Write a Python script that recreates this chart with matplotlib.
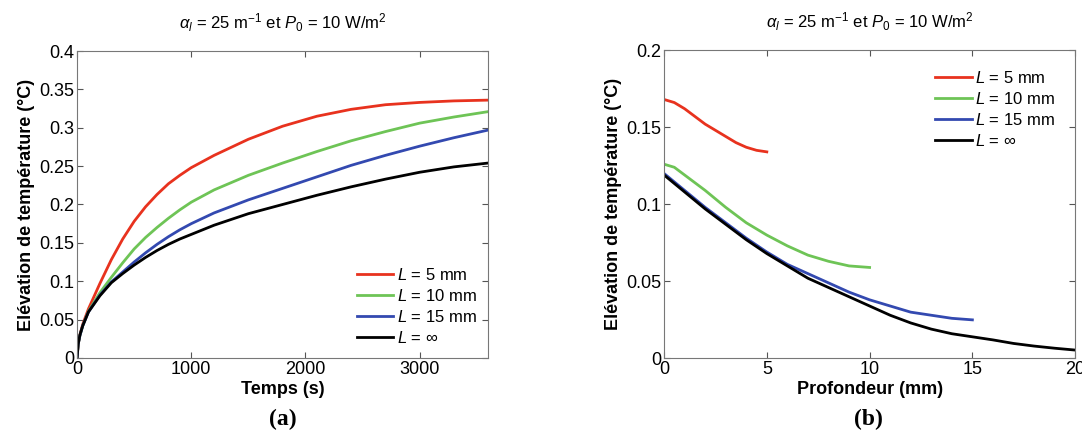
import numpy as np
import matplotlib
matplotlib.use("Agg")
import matplotlib.pyplot as plt

# (a) temperature rise vs time
temps_s = [0, 10, 25, 50, 100, 200, 300, 400, 500, 600, 700, 800, 900, 1000, 1200,
           1500, 1800, 2100, 2400, 2700, 3000, 3300, 3600]
a_L5 = [0, 0.018, 0.030, 0.044, 0.064, 0.097, 0.128, 0.155, 0.178, 0.197, 0.213,
        0.227, 0.238, 0.248, 0.264, 0.285, 0.302, 0.315, 0.324, 0.330, 0.333, 0.335, 0.336]
a_L10 = [0, 0.018, 0.029, 0.042, 0.061, 0.085, 0.105, 0.124, 0.142, 0.157, 0.170,
         0.182, 0.193, 0.203, 0.219, 0.238, 0.254, 0.269, 0.283, 0.295, 0.306, 0.314, 0.321]
a_L15 = [0, 0.018, 0.029, 0.042, 0.060, 0.082, 0.099, 0.112, 0.125, 0.137, 0.148,
         0.158, 0.167, 0.175, 0.189, 0.206, 0.221, 0.236, 0.251, 0.264, 0.276, 0.287, 0.297]
a_Linf = [0, 0.018, 0.030, 0.042, 0.060, 0.081, 0.098, 0.110, 0.121, 0.131, 0.140,
          0.148, 0.155, 0.161, 0.173, 0.188, 0.200, 0.212, 0.223, 0.233, 0.242, 0.249, 0.254]

# (b) temperature rise vs depth
prof_L5 = [0, 0.5, 1, 1.5, 2, 2.5, 3, 3.5, 4, 4.5, 5]
b_L5 = [0.168, 0.166, 0.162, 0.157, 0.152, 0.148, 0.144, 0.140, 0.137, 0.135, 0.134]
prof_L10 = [0, 0.5, 1, 2, 3, 4, 5, 6, 7, 8, 9, 10]
b_L10 = [0.126, 0.124, 0.119, 0.109, 0.098, 0.088, 0.080, 0.073, 0.067, 0.063, 0.060, 0.059]
prof_L15 = [0, 1, 2, 3, 4, 5, 6, 7, 8, 9, 10, 11, 12, 13, 14, 15]
b_L15 = [0.120, 0.109, 0.098, 0.088, 0.078, 0.069, 0.061, 0.055, 0.049, 0.043,
         0.038, 0.034, 0.030, 0.028, 0.026, 0.025]
prof_Linf = [0, 1, 2, 3, 4, 5, 6, 7, 8, 9, 10, 11, 12, 13, 14, 15, 16, 17, 18, 19, 20]
b_Linf = [0.119, 0.108, 0.097, 0.087, 0.077, 0.068, 0.060, 0.052, 0.046, 0.040,
          0.034, 0.028, 0.023, 0.019, 0.016, 0.014, 0.012, 0.0097, 0.008, 0.0066, 0.0054]

labels = [r'$L$ = 5 mm', r'$L$ = 10 mm', r'$L$ = 15 mm', r'$L$ = $\infty$']
colors = ['#e8321e', '#6ec456', '#3349b0', '#000000']

plt.rcParams['font.family'] = ['Liberation Sans', 'DejaVu Sans']
plt.rcParams['mathtext.fontset'] = 'custom'
plt.rcParams['mathtext.rm'] = 'Liberation Sans'
plt.rcParams['mathtext.it'] = 'Liberation Sans:italic'
plt.rcParams['mathtext.bf'] = 'Liberation Sans:bold'

fig = plt.figure(figsize=(10.82, 4.36), dpi=100)
ax1 = fig.add_axes([0.0712, 0.179, 0.380, 0.704])
ax2 = fig.add_axes([0.6137, 0.178, 0.380, 0.707])

title = r'$\alpha_l$ = 25 m$^{-1}$ et $P_0$ = 10 W/m$^2$'

for y, c, lab in zip([a_L5, a_L10, a_L15, a_Linf], colors, labels):
    ax1.plot(temps_s, y, color=c, lw=2.0, label=lab)
ax1.set_xlim(0, 3600)
ax1.set_ylim(0, 0.4)
ax1.set_xticks([0, 1000, 2000, 3000])
ax1.set_yticks([0, 0.05, 0.1, 0.15, 0.2, 0.25, 0.3, 0.35, 0.4])
ax1.set_yticklabels(['0', '0.05', '0.1', '0.15', '0.2', '0.25', '0.3', '0.35', '0.4'])
ax1.set_xlabel('Temps (s)', fontweight='bold', fontsize=13, labelpad=2)
ax1.legend(loc='lower right', frameon=False, fontsize=12, handlelength=2.2,
           handletextpad=0.2, labelspacing=0.3, borderaxespad=0.3)

curves_b = [(prof_L5, b_L5), (prof_L10, b_L10), (prof_L15, b_L15), (prof_Linf, b_Linf)]
for (x, y), c, lab in zip(curves_b, colors, labels):
    ax2.plot(x, y, color=c, lw=2.0, label=lab)
ax2.set_xlim(0, 20)
ax2.set_ylim(0, 0.2)
ax2.set_xticks([0, 5, 10, 15, 20])
ax2.set_yticks([0, 0.05, 0.1, 0.15, 0.2])
ax2.set_yticklabels(['0', '0.05', '0.1', '0.15', '0.2'])
ax2.set_xlabel('Profondeur (mm)', fontweight='bold', fontsize=13, labelpad=2)
ax2.legend(loc='upper right', frameon=False, fontsize=12, handlelength=2.2,
           handletextpad=0.2, labelspacing=0.3, borderaxespad=0.8)

for ax in (ax1, ax2):
    ax.set_title(title, fontsize=12, pad=16)
    ax.set_ylabel('Elévation de température (°C)', fontweight='bold', fontsize=13, labelpad=3)
    ax.tick_params(direction='in', top=True, right=True, labelsize=13, length=4,
                   color='#555555', pad=2)
    for s in ax.spines.values():
        s.set_color('#777777')

fig.text(0.261, 0.025, '(a)', fontsize=17, fontweight='bold', ha='center',
         family='Liberation Serif')
fig.text(0.803, 0.025, '(b)', fontsize=17, fontweight='bold', ha='center',
         family='Liberation Serif')

fig.savefig('out.png', dpi=100)
